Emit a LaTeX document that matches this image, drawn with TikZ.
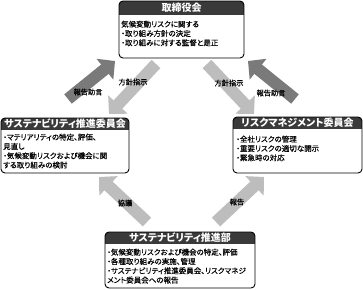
\documentclass[tikz,border=0pt]{standalone}
\usepackage{fontspec}
\newfontfamily\jp[RawFeature=+palt]{Noto Sans CJK JP}
\newfontfamily\jpt[RawFeature=+palt,FakeBold=0.35]{Noto Sans CJK JP}
\usetikzlibrary{arrows.meta}
\definecolor{cHdr}{HTML}{3A3A3A}
\definecolor{cDark}{HTML}{7A7A7A}
\definecolor{cLight}{HTML}{BDBDBD}
\begin{document}
\begin{tikzpicture}[x=1pt,y=-1pt,
  boxarea/.style={inner sep=0pt,outer sep=0pt},
  border/.style={draw=black,line width=0.9pt,rounded corners=4pt},
  hdr/.style={text=white,font=\jp\bfseries\fontsize{10}{12}\selectfont,inner sep=0pt},
  body/.style={font=\jpt\fontsize{7.5}{9.3}\selectfont,align=left,inner sep=0pt,anchor=north west},
  lbl/.style={font=\jpt\fontsize{7.2}{8}\selectfont,inner sep=0pt},
  darkarrow/.style={draw=cDark,line width=12pt,-{Triangle[length=13pt,width=26pt]}},
  lightarrow/.style={draw=cLight,line width=12pt,-{Triangle[length=13pt,width=26pt]}}]
\useasboundingbox[fill=white] (0,0) rectangle (363,289);

% boxes
\node[boxarea,minimum width=125pt,minimum height=57pt] (top) at (181.5,29.5) {};
\node[boxarea,minimum width=128pt,minimum height=55pt] (left) at (65,145.5) {};
\node[boxarea,minimum width=129pt,minimum height=56pt] (right) at (297.5,145) {};
\node[boxarea,minimum width=150pt,minimum height=56pt] (bottom) at (180,260) {};

\begin{scope}
\clip[rounded corners=4pt] (top.north west) rectangle (top.south east);
\fill[cHdr] (top.north west) rectangle ([yshift=-14pt]top.north east);
\end{scope}
\begin{scope}
\clip[rounded corners=4pt] (left.north west) rectangle (left.south east);
\fill[cHdr] (left.north west) rectangle ([yshift=-12pt]left.north east);
\end{scope}
\begin{scope}
\clip[rounded corners=4pt] (right.north west) rectangle (right.south east);
\fill[cHdr] (right.north west) rectangle ([yshift=-12pt]right.north east);
\end{scope}
\begin{scope}
\clip[rounded corners=4pt] (bottom.north west) rectangle (bottom.south east);
\fill[cHdr] (bottom.north west) rectangle ([yshift=-12pt]bottom.north east);
\end{scope}
\draw[border] (top.north west) rectangle (top.south east);
\draw[border] (left.north west) rectangle (left.south east);
\draw[border] (right.north west) rectangle (right.south east);
\draw[border] (bottom.north west) rectangle (bottom.south east);

% headers
\node[hdr] (toph) at (181.5,8) {取締役会};
\node[hdr] (lefth) at (65,124) {サステナビリティ推進委員会};
\node[hdr] (righth) at (297.5,123) {リスクマネジメント委員会};
\node[hdr] (bottomh) at (180,238) {サステナビリティ推進部};

% bodies
\node[body] (topb) at (121,20.5) {気候変動リスクに関する\\・取り組み方針の決定\\・取り組みに対する監督と是正};
\node[body] (leftb) at (3,133.5) {・マテリアリティの特定、評価、\\見直し\\・気候変動リスクおよび機会に関\\する取り組みの検討};
\node[body] (rightb) at (236,135.5) {・全社リスクの管理\\・重要リスクの適切な開示\\・緊急時の対応};
\node[body] (bottomb) at (107,248.5) {・気候変動リスクおよび機会の特定、評価\\・各種取り組みの実施、管理\\・サステナビリティ推進委員会、リスクマネジ\\メント委員会への報告};

% arrow end points
\coordinate (a1s) at (68,99);  \coordinate (a1e) at (115,61);
\coordinate (a2s) at (156,64); \coordinate (a2e) at (109,114);
\coordinate (a3s) at (207,64); \coordinate (a3e) at (254,114);
\coordinate (a4s) at (295,99); \coordinate (a4e) at (248,61);
\coordinate (a5s) at (147,222); \coordinate (a5e) at (99,177);
\coordinate (a6s) at (216,222); \coordinate (a6e) at (264,177);

\draw[darkarrow] (a1s) -- (a1e);
\draw[lightarrow] (a2s) -- (a2e);
\draw[lightarrow] (a3s) -- (a3e);
\draw[darkarrow] (a4s) -- (a4e);
\draw[lightarrow] (a5s) -- (a5e);
\draw[lightarrow] (a6s) -- (a6e);

% labels
\node[lbl] (l1) at (88,92) {報告助言};
\node[lbl] (l2) at (133,82) {方針指示};
\node[lbl] (l3) at (229,83) {方針指示};
\node[lbl] (l4) at (271,93) {報告助言};
\node[lbl] (l5) at (125,203) {協議};
\node[lbl] (l6) at (237,202) {報告};
\end{tikzpicture}
\end{document}
